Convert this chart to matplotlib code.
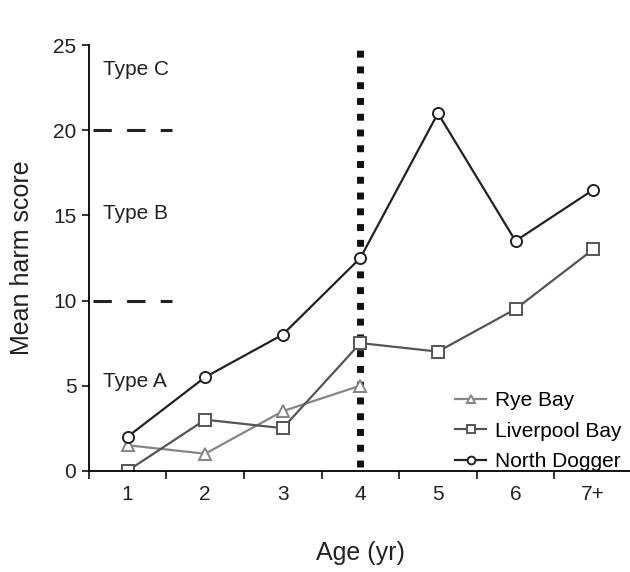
import matplotlib
matplotlib.use("Agg")
import matplotlib.pyplot as plt

plt.rcParams["font.family"] = ["Liberation Sans", "DejaVu Sans"]

ages = ["1", "2", "3", "4", "5", "6", "7+"]
rye_bay = [1.5, 1.0, 3.5, 5.0]
liverpool_bay = [0.0, 3.0, 2.5, 7.5, 7.0, 9.5, 13.0]
north_dogger = [2.0, 5.5, 8.0, 12.5, 21.0, 13.5, 16.5]
type_bounds = [10, 20]
type_labels = [("Type A", 5.25), ("Type B", 15.1), ("Type C", 23.6)]

fig = plt.figure(figsize=(6.3, 5.72), dpi=100)
ax = fig.add_axes([0.141, 0.177, 0.862, 0.744])

x = list(range(1, len(ages) + 1))
ax.plot(x[:len(rye_bay)], rye_bay, color="#858585", marker="^", ms=8,
        mfc="white", mew=1.4, lw=1.6, label="Rye Bay")
ax.plot(x, liverpool_bay, color="#555555", marker="s", ms=8,
        mfc="white", mew=1.4, lw=1.6, label="Liverpool Bay")
ax.plot(x, north_dogger, color="#222222", marker="o", ms=8,
        mfc="white", mew=1.4, lw=1.6, label="North Dogger")

# age-4 threshold
ax.plot([4, 4], [0.2, 24.9], color="#111111", lw=5, ls=(0, (1, 1.27)),
        solid_capstyle="butt", dash_capstyle="butt", zorder=1)

for b in type_bounds:
    ax.plot([0.55, 1.57], [b, b], color="#222222", lw=2.2, ls=(0, (6, 5)),
            dash_capstyle="butt")
for txt, yv in type_labels:
    ax.text(0.68, yv, txt, fontsize=15, va="center", ha="left", color="#222222")

ax.set_xlim(0.5, 7.5)
ax.set_ylim(0, 25)
ax.set_yticks([0, 5, 10, 15, 20, 25])
ax.set_xticks([i + 0.5 for i in range(0, 8)])
ax.set_xticklabels([])
ax.set_xticks(x, minor=True)
ax.set_xticklabels(ages, minor=True)
ax.tick_params(axis="x", which="minor", length=0, labelsize=15, pad=10,
               labelcolor="#222222")
ax.tick_params(axis="x", which="major", length=6, width=1.1)
ax.tick_params(axis="y", labelsize=15, length=5, width=1.1, pad=4,
               labelcolor="#222222")
for s in ["top", "right"]:
    ax.spines[s].set_visible(False)
ax.spines["left"].set_linewidth(1.3)
ax.spines["bottom"].set_linewidth(1.3)

ax.set_xlabel("Age (yr)", fontsize=18, labelpad=27, color="#222222")
ax.set_ylabel("Mean harm score", fontsize=18, labelpad=14, color="#222222")

ax.legend(loc="lower right", bbox_to_anchor=(1.015, -0.045), frameon=False,
          fontsize=15, handlelength=1.5, handletextpad=0.4, labelspacing=0.55,
          markerscale=0.7)

fig.savefig("out.png", dpi=100)
